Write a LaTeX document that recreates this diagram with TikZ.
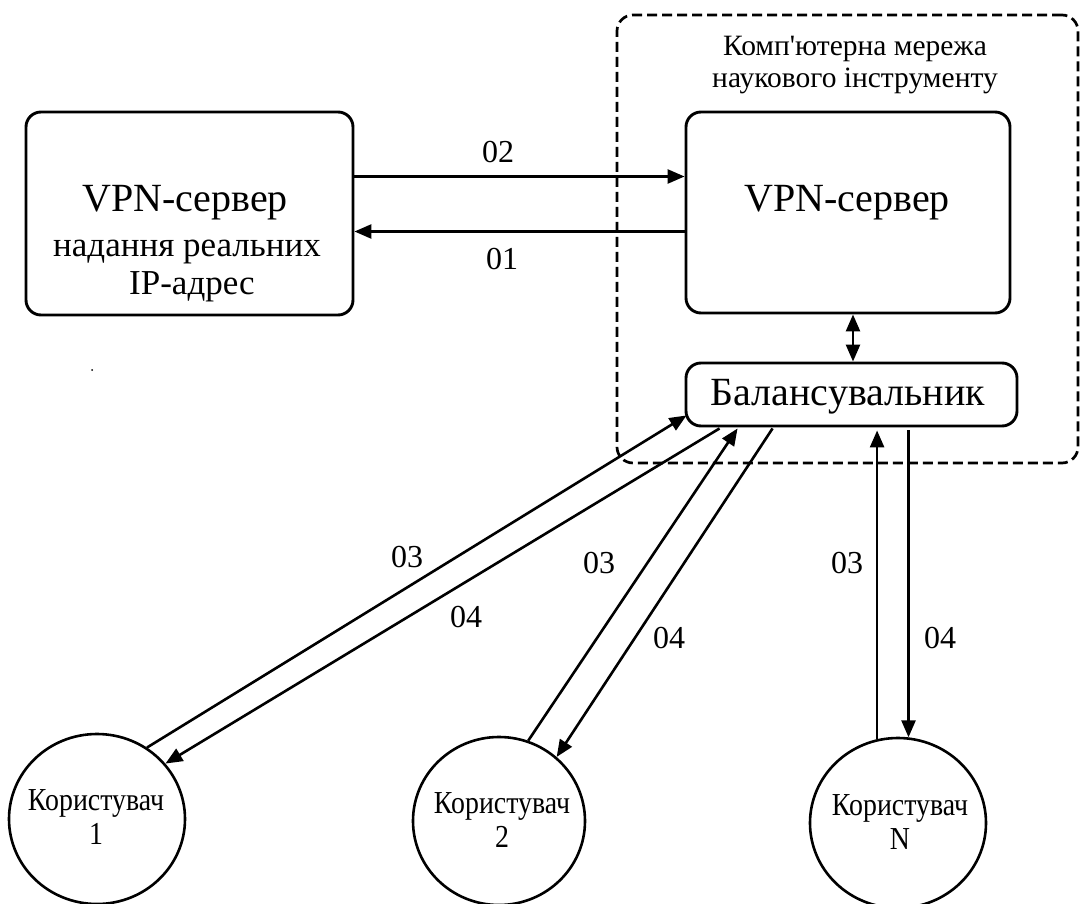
\documentclass[tikz,border=0pt]{standalone}
\usepackage{fontspec}
\setmainfont{Liberation Serif}
\newfontfamily\userfont[FakeStretch=0.87]{Liberation Serif}
\usetikzlibrary{arrows.meta,shapes.geometric}

\begin{document}
\begin{tikzpicture}[x=1pt,y=-1pt,
  box/.style={draw,line width=2.9pt,rounded corners=15pt,inner sep=0pt},
  netbox/.style={draw,line width=2.7pt,dash pattern=on 10pt off 5pt,rounded corners=16pt,inner sep=0pt},
  user/.style={draw,ellipse,line width=2.6pt,minimum width=176pt,minimum height=170pt,inner sep=0pt},
  tip/.tip={Triangle[length=17pt,width=14pt]},
  arr/.style={line width=2.6pt,-tip},
  dbl/.style={line width=2.6pt,tip-tip},
  big/.style={font=\fontsize{40}{46}\selectfont,anchor=base,inner sep=0pt},
  mid/.style={font=\fontsize{35}{40}\selectfont,anchor=base,inner sep=0pt},
  ttl/.style={font=\fontsize{29.5}{34}\selectfont,anchor=base,inner sep=0pt},
  utext/.style={font=\userfont\fontsize{32}{35}\selectfont,anchor=base,inner sep=0pt},
  num/.style={font=\fontsize{32}{36}\selectfont,anchor=base,inner sep=0pt}]
\useasboundingbox (0,0) rectangle (1080,904);

% network boundary
\node[netbox,minimum width=461pt,minimum height=448pt] (net) at (847.5,239) {};
\node[ttl] (tt1) at (855,56) {Комп\textquotesingle ютерна мережа};
\node[ttl] (tt2) at (855,88) {наукового інструменту};

% servers and balancer
\node[box,minimum width=327pt,minimum height=203pt] (lbox) at (189.5,213.5) {};
\node[big] (lt1) at (185,212) {VPN-сервер};
\node[mid] (lt2) at (187,257) {надання реальних};
\node[mid] (lt3) at (192,295) {IP-адрес};

\node[box,minimum width=324pt,minimum height=201pt] (rvpn) at (848,212.5) {};
\node[big] (rt) at (847,212) {VPN-сервер};

\node[box,minimum width=331pt,minimum height=63pt] (bal) at (851.5,394.5) {};
\node[big] (bt) at (848,406) {Балансувальник};

% users
\node[user] (u1) at (97,819) {};
\node[utext] (u1a) at (96,810) {Користувач};
\node[utext] (u1b) at (96,844) {1};
\node[user,minimum width=172pt,minimum height=168pt] (u2) at (499,821) {};
\node[utext] (u2a) at (502,813) {Користувач};
\node[utext] (u2b) at (502,847) {2};
\node[user] (u3) at (898,823) {};
\node[utext] (u3a) at (900,815) {Користувач};
\node[utext] (u3b) at (900,849) {N};

\node[circle,fill,inner sep=0pt,minimum size=2pt] (speck) at (92,370) {};

% server links
\draw[arr] ([yshift=37pt]lbox.east) -- ([yshift=37pt]lbox.east -| rvpn.west);
\draw[arr] ([yshift=-18pt]lbox.east -| rvpn.west) -- ([yshift=-18pt]lbox.east);
\node[num] (l02) at (498,163) {02};
\node[num] (l01) at (502,270) {01};
\draw[dbl] ([xshift=1.5pt]bal.north) -- ([xshift=1.5pt]bal.north |- rvpn.south);

% user links
\draw[arr] (u1.55.5) -- ([xshift=2pt,yshift=12pt]bal.south west);
\draw[arr] ([xshift=35pt,yshift=-1pt]bal.south west) -- (u1.39.3);
\draw[arr] (u2.70.5) -- ([xshift=53pt,yshift=-1pt]bal.south west);
\draw[arr] ([xshift=88pt,yshift=-1pt]bal.south west) -- (u2.48.8);
\draw[arr] (u3.104.5) -- ([yshift=-3pt]u3.104.5 |- bal.south);
\draw[arr] ([yshift=-3pt]u3.83.5 |- bal.south) -- (u3.83.5);

\node[num] (l03a) at (407,567) {03};
\node[num] (l04a) at (466,627) {04};
\node[num] (l03b) at (599,573) {03};
\node[num] (l04b) at (669,648) {04};
\node[num] (l03c) at (847,573) {03};
\node[num] (l04c) at (940,648) {04};
\end{tikzpicture}
\end{document}
